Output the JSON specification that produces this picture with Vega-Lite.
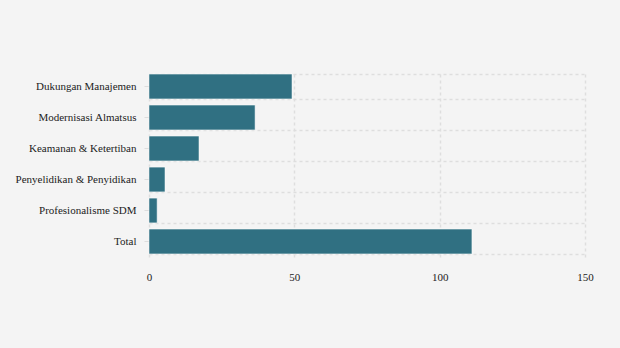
{
  "$schema": "https://vega.github.io/schema/vega-lite/v6.json",
  "width": 436,
  "height": 186,
  "autosize": {"type": "none"},
  "padding": {"left": 149, "top": 71, "right": 35, "bottom": 91},
  "background": "#f4f4f4",
  "view": {"stroke": null},
  "config": {
    "font": "Liberation Serif",
    "axis": {"labelFont": "Liberation Serif", "labelFontSize": 11, "labelColor": "#222222"}
  },
  "data": {
    "values": [
      {"kategori": "Dukungan Manajemen", "nilai": 49.2},
      {"kategori": "Modernisasi Almatsus", "nilai": 36.5},
      {"kategori": "Keamanan & Ketertiban", "nilai": 17.2},
      {"kategori": "Penyelidikan & Penyidikan", "nilai": 5.5},
      {"kategori": "Profesionalisme SDM", "nilai": 2.8},
      {"kategori": "Total", "nilai": 111.1}
    ]
  },
  "resolve": {"axis": {"y": "independent"}},
  "layer": [
    {
      "mark": {"type": "bar", "color": "#307082", "stroke": "#ffffff", "strokeWidth": 0.5},
      "encoding": {
        "y": {
          "field": "kategori", "type": "nominal", "sort": null,
          "scale": {"paddingInner": 0.2, "paddingOuter": 0.1},
          "axis": {"title": null, "grid": false, "domain": false, "ticks": true, "tickSize": 5, "tickColor": "#dddddd", "labelPadding": 8, "orient": "left"}
        },
        "x": {
          "field": "nilai", "type": "quantitative",
          "scale": {"domain": [0, 150], "nice": false},
          "axis": {"title": null, "values": [0, 50, 100, 150], "labelFlush": false, "domain": false, "ticks": false, "labelPadding": 14, "grid": true, "gridColor": "#dedede", "gridDash": [3, 3], "gridWidth": 1.5}
        }
      }
    },
    {
      "mark": {"type": "bar", "opacity": 0},
      "encoding": {
        "y": {
          "field": "kategori", "type": "nominal", "sort": null,
          "axis": {"title": null, "grid": true, "tickBand": "extent", "gridColor": "#dedede", "gridDash": [3, 3], "gridWidth": 1.5, "labels": false, "ticks": false, "domain": false, "orient": "left"}
        },
        "x": {"field": "nilai", "type": "quantitative"}
      }
    }
  ]
}
